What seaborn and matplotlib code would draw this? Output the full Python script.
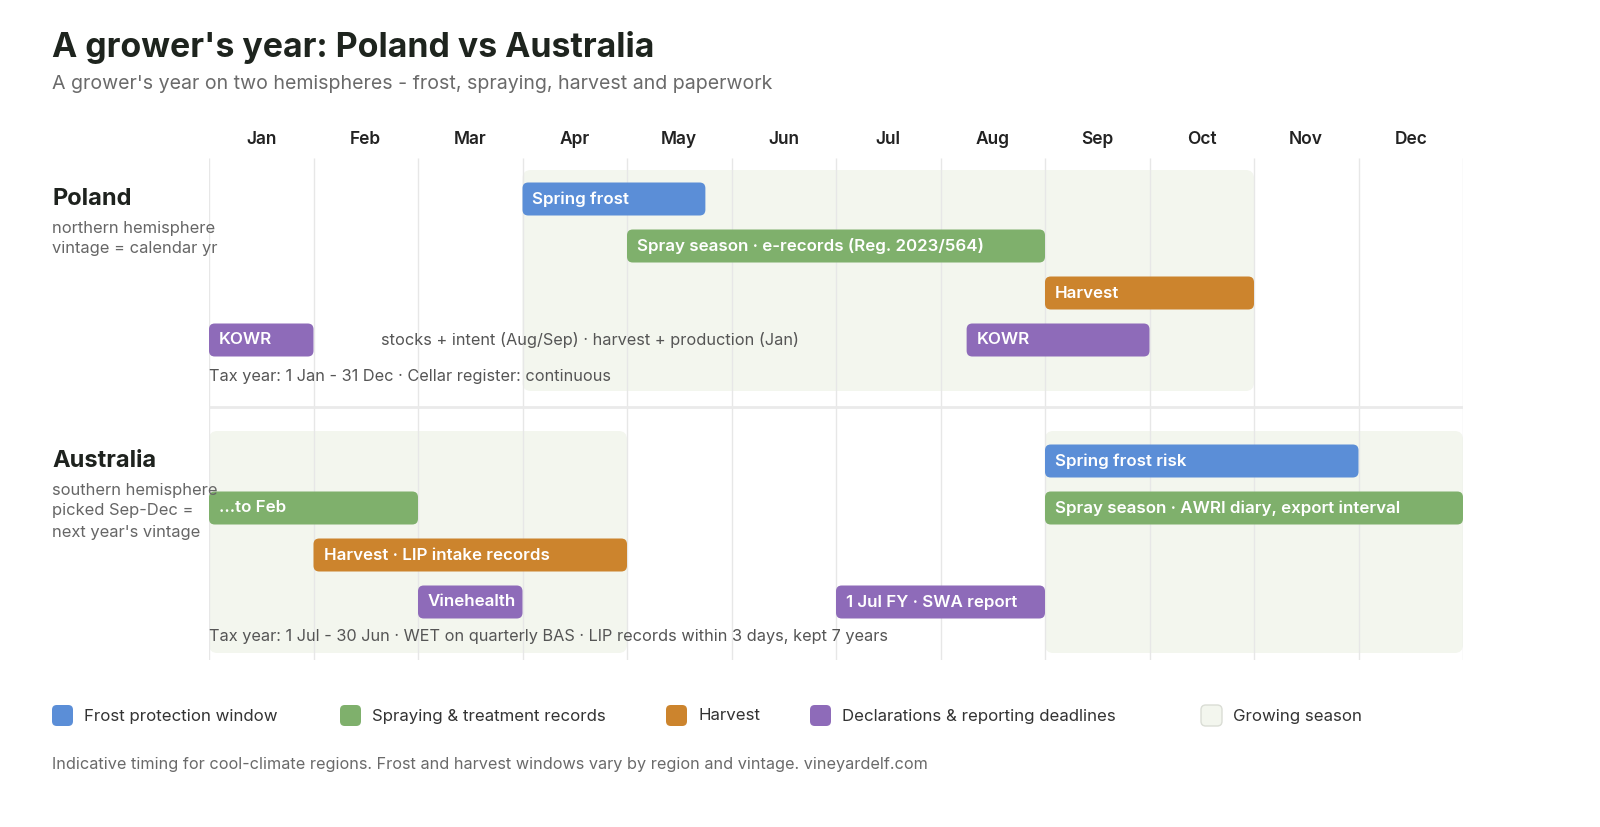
import matplotlib
matplotlib.use("Agg")
import matplotlib.pyplot as plt
from matplotlib.patches import FancyBboxPatch
from matplotlib.transforms import offset_copy
import pandas as pd
import seaborn as sns

# chart data
months = ['Jan', 'Feb', 'Mar', 'Apr', 'May', 'Jun',
          'Jul', 'Aug', 'Sep', 'Oct', 'Nov', 'Dec']

pl_labels = ['Spring frost', 'Spray season · e-records (Reg. 2023/564)',
             'Harvest', 'KOWR', 'KOWR']
pl_start = [3.0, 4.0, 8.0, 0.0, 7.25]
pl_end = [4.75, 8.0, 10.0, 1.0, 9.0]
pl_cat = ['frost', 'spray', 'harvest', 'decl', 'decl']
pl_row = [0, 1, 2, 3, 3]
pl_season = [(3.0, 10.0)]

au_labels = ['Spring frost risk', 'Spray season · AWRI diary, export interval',
             '...to Feb', 'Harvest · LIP intake records', 'Vinehealth',
             '1 Jul FY · SWA report']
au_start = [8.0, 8.0, 0.0, 1.0, 2.0, 6.0]
au_end = [11.0, 12.0, 2.0, 4.0, 3.0, 8.0]
au_cat = ['frost', 'spray', 'spray', 'harvest', 'decl', 'decl']
au_row = [0, 1, 1, 2, 3, 3]
au_season = [(0.0, 4.0), (8.0, 12.0)]

pl_note = 'stocks + intent (Aug/Sep) · harvest + production (Jan)'
pl_tax = 'Tax year: 1 Jan - 31 Dec · Cellar register: continuous'
au_tax = 'Tax year: 1 Jul - 30 Jun · WET on quarterly BAS · LIP records within 3 days, kept 7 years'

legend_labels = ['Frost protection window', 'Spraying & treatment records',
                 'Harvest', 'Declarations & reporting deadlines', 'Growing season']

colors = {'frost': '#5B8ED7', 'spray': '#7FB06C', 'harvest': '#CC842D',
          'decl': '#8E6BB9', 'season': '#F3F6EE'}

W, H = 1600, 827
sns.set_theme(style='white')
plt.rcParams['font.family'] = ['Inter', 'DejaVu Sans']

fig = plt.figure(figsize=(W / 100, H / 100), dpi=100)
fig.patch.set_facecolor('white')


def fx(px):
    return px / W


def fy(px):
    return 1 - px / H


# axes box in pixels: x 209..1463, y 158..660
ax_left, ax_right, ax_top, ax_bot = 209, 1463, 158, 660
ax = fig.add_axes([fx(ax_left), fy(ax_bot), fx(ax_right - ax_left), (ax_bot - ax_top) / H])
ax.set_xlim(0, 12)
ax.set_ylim(ax_bot - ax_top, 0)
ax.axis('off')
px_per_month = (ax_right - ax_left) / 12

# vertical month lines and labels
ax.vlines(range(13), 0, ax_bot - ax_top, color='#E7E7E7', lw=1, zorder=1)
for i, m in enumerate(months):
    ax.text(i + 0.5, -18, m, ha='center', va='center', fontsize=12.5,
            fontweight='semibold', color='#222222', clip_on=False)

bar_h = 33
row_step = 47
sections = [
    dict(name='Poland', sub=['northern hemisphere', 'vintage = calendar yr'],
         top=41, season=pl_season, season_y=(12, 233), tax=pl_tax, tax_y=218,
         df=pd.DataFrame(dict(label=pl_labels, start=pl_start, end=pl_end,
                              cat=pl_cat, row=pl_row))),
    dict(name='Australia', sub=['southern hemisphere', 'picked Sep-Dec =', "next year's vintage"],
         top=303, season=au_season, season_y=(273, 495), tax=au_tax, tax_y=479,
         df=pd.DataFrame(dict(label=au_labels, start=au_start, end=au_end,
                              cat=au_cat, row=au_row))),
]

text_off = offset_copy(ax.transData, fig=fig, x=10, y=0, units='dots')

for sec in sections:
    y0, y1 = sec['season_y']
    for s, e in sec['season']:
        ax.add_patch(FancyBboxPatch((s, y0), e - s, y1 - y0,
                                    boxstyle='round,pad=0,rounding_size=0.08',
                                    mutation_aspect=px_per_month,
                                    fc=colors['season'], ec='none', zorder=0))
    for _, r in sec['df'].iterrows():
        yc = sec['top'] + r['row'] * row_step
        ax.add_patch(FancyBboxPatch((r['start'], yc - bar_h / 2), r['end'] - r['start'], bar_h,
                                    boxstyle='round,pad=0,rounding_size=0.055',
                                    mutation_aspect=px_per_month,
                                    fc=colors[r['cat']], ec='none', zorder=3))
        ax.text(r['start'], yc, r['label'], transform=text_off, ha='left', va='center',
                fontsize=12.2, fontweight='semibold', color='white', zorder=4)
    ax.text(0, sec['tax_y'], sec['tax'], ha='left', va='center', fontsize=11.75,
            color='#555555', zorder=4)

    # left side labels
    name_y = ax_top + sec['top']
    fig.text(fx(52), fy(name_y), sec['name'], ha='left', va='center', fontsize=17,
             fontweight='bold', color='#1E221E')
    for k, line in enumerate(sec['sub']):
        fig.text(fx(52), fy(name_y + 29 + k * 21), line, ha='left', va='center',
                 fontsize=11.9, color='#666666')

ax.text(1.65, 41 + 3 * row_step, pl_note, ha='left', va='center', fontsize=11.75,
        color='#555555', zorder=4)

# separator between hemispheres
ax.hlines(249, 0, 12, color='#EAEAEA', lw=2, zorder=1)

# title and subtitle
fig.text(fx(52), fy(47), "A grower's year: Poland vs Australia", ha='left', va='center',
         fontsize=24.4, fontweight='bold', color='#1E241E')
fig.text(fx(52), fy(84), "A grower's year on two hemispheres - frost, spraying, harvest and paperwork",
         ha='left', va='center', fontsize=14.1, color='#6A6A6A')

# legend
leg_colors = [colors['frost'], colors['spray'], colors['harvest'], colors['decl'], colors['season']]
leg_x = [52, 340, 666, 810, 1201]
for lx, lab, c in zip(leg_x, legend_labels, leg_colors):
    ec = '#DADDD5' if c == colors['season'] else 'none'
    fig.patches.append(FancyBboxPatch((fx(lx), fy(726)), fx(21), 21 / H,
                                      boxstyle='round,pad=0,rounding_size=0.003',
                                      mutation_aspect=W / H,
                                      transform=fig.transFigure, fc=c, ec=ec, lw=1))
    fig.text(fx(lx + 32), fy(716), lab, ha='left', va='center', fontsize=12.15, color='#333333')

fig.text(fx(52), fy(765),
         'Indicative timing for cool-climate regions. Frost and harvest windows vary by region and vintage. vineyardelf.com',
         ha='left', va='center', fontsize=11.7, color='#6A6A6A')

fig.savefig('out.png', dpi=100, facecolor='white')
